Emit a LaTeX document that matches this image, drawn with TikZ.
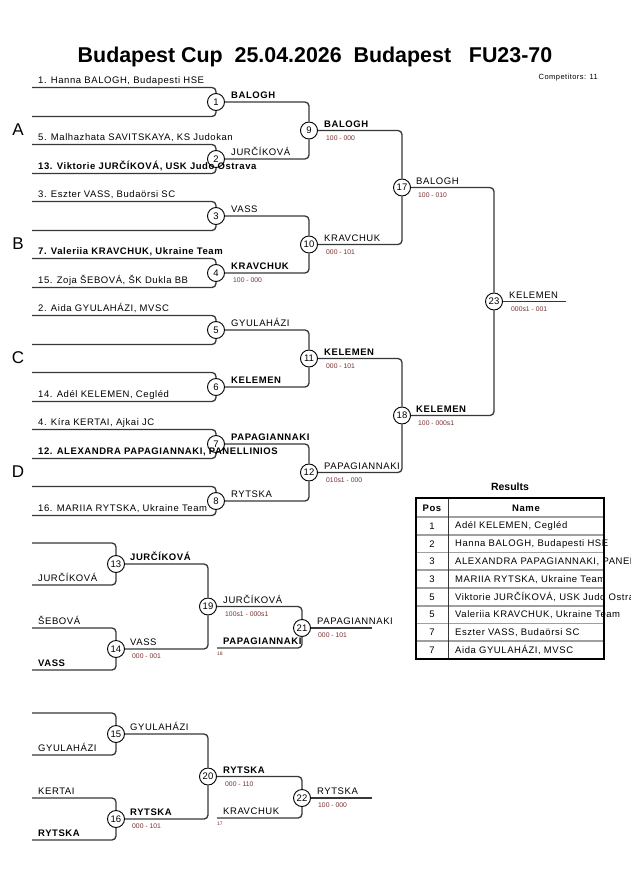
\documentclass[tikz,border=0pt]{standalone}
\usepackage{fontspec}
\setmainfont{Liberation Sans}
\newfontfamily\nf[LetterSpace=6]{Liberation Sans}
\definecolor{ln}{RGB}{55,55,55}
\definecolor{scr}{RGB}{120,45,45}
\tikzset{
 br/.style={draw=ln, line width=1.3pt, rounded corners=4pt},
 mc/.style={circle, draw=black, line width=0.9pt, fill=white, minimum size=17pt, inner sep=0pt, font=\fontsize{9.5}{9.5}\selectfont},
 nm/.style={anchor=base west, inner sep=0pt, font=\nf\fontsize{9.5}{10}\selectfont},
 nb/.style={anchor=base west, inner sep=0pt, font=\nf\bfseries\fontsize{9.5}{10}\selectfont},
 sco/.style={anchor=base west, inner sep=0pt, text=scr, font=\fontsize{6.8}{7}\selectfont},
 tiny/.style={anchor=base west, inner sep=0pt, text=scr, font=\fontsize{5}{5}\selectfont},
 grp/.style={font=\fontsize{17}{17}\selectfont, inner sep=0pt},
 tline/.style={draw=gray!75, line width=1.6pt},
 tcell/.style={inner sep=0pt, font=\nf\fontsize{9.5}{10}\selectfont},
}
\begin{document}
\begin{tikzpicture}[x=1pt,y=-1pt]
\useasboundingbox (0,0) rectangle (630,891);
\clip (0,0) rectangle (630,891);
% title
\node[font=\bfseries\fontsize{21.4}{21.4}\selectfont, inner sep=0pt] (title) at (315,57) {Budapest Cup\ \ 25.04.2026\ \ Budapest\ \ \ FU23-70};
\node[anchor=base east, inner sep=0pt, font=\nf\fontsize{7.5}{8}\selectfont] (comp) at (598,79) {Competitors: 11};
% group letters
\node[grp] (gA) at (18,130) {A};
\node[grp] (gB) at (18,244) {B};
\node[grp] (gC) at (18,358) {C};
\node[grp] (gD) at (18,472) {D};
% match circles
\foreach \k/\x/\y in {1/216/102, 2/216/159, 3/216/216, 4/216/273, 5/216/330, 6/216/387, 7/216/444, 8/216/501, 9/309/130.5, 10/309/244.5, 11/309/358.5, 12/309/472.5, 17/402/187.5, 18/402/415.5, 23/494/301.5, 13/116/564, 14/116/649, 19/208/606.5, 21/302/628, 15/116/734, 16/116/819, 20/208/776.5, 22/302/798}
  {\node[mc] (m\k) at (\x,\y) {\k};}
% entry lines
\foreach \k/\y/\d in {1/102/14.5, 2/159/14.5, 3/216/14.5, 4/273/14.5, 5/330/14.5, 6/387/14.5, 7/444/14.5, 8/501/14.5, 13/564/21, 14/649/21, 15/734/21, 16/819/21}
  {\coordinate (t\k) at (32,\y-\d);
   \coordinate (b\k) at (32,\y+\d);
   \draw[br] (t\k) -| (m\k);
   \draw[br] (b\k) -| (m\k);}
% bracket connectors
\foreach \a/\b in {1/9,2/9,3/10,4/10,5/11,6/11,7/12,8/12,9/17,10/17,11/18,12/18,17/23,18/23,13/19,14/19,15/20,16/20,19/21,20/22}
  {\draw[br] (m\a) -| (m\b);}
\coordinate (r21) at (217,648);
\coordinate (r22) at (217,818);
\coordinate (w21) at (372,628);
\coordinate (w22) at (372,798);
\coordinate (w23) at (566,301.5);
\draw[br] (r21) -| (m21);
\draw[br] (r22) -| (m22);
\draw[br] (m21) -- (w21);
\draw[br] (m22) -- (w22);
\draw[br] (m23) -- (w23);
% competitor names
\foreach \i/\s/\x/\y/\t in {
 1/nm/38/84/{1. Hanna BALOGH, Budapesti HSE},
 2/nm/38/140.5/{5. Malhazhata SAVITSKAYA, KS Judokan},
 3/nb/38/169.5/{13. Viktorie JURČÍKOVÁ, USK Judo Ostrava},
 4/nm/38/197.5/{3. Eszter VASS, Budaörsi SC},
 5/nb/38/254.5/{7. Valeriia KRAVCHUK, Ukraine Team},
 6/nm/38/283.5/{15. Zoja ŠEBOVÁ, ŠK Dukla BB},
 7/nm/38/311.5/{2. Aida GYULAHÁZI, MVSC},
 8/nm/38/397.5/{14. Adél KELEMEN, Cegléd},
 9/nm/38/425.5/{4. Kíra KERTAI, Ajkai JC},
 10/nb/38/454.5/{12. ALEXANDRA PAPAGIANNAKI, PANELLINIOS},
 11/nm/38/511.5/{16. MARIIA RYTSKA, Ukraine Team},
 12/nm/38/581/{JURČÍKOVÁ},
 13/nm/38/624/{ŠEBOVÁ},
 14/nb/38/666/{VASS},
 15/nm/38/751/{GYULAHÁZI},
 16/nm/38/794/{KERTAI},
 17/nb/38/836/{RYTSKA}}
  {\node[\s] (c\i) at (\x,\y) {\t};}
% winner labels
\foreach \i/\s/\x/\y/\t in {
 1/nb/231/98.5/BALOGH,
 2/nm/231/155.5/JURČÍKOVÁ,
 3/nm/231/212.5/VASS,
 4/nb/231/269.5/KRAVCHUK,
 5/nm/231/326.5/GYULAHÁZI,
 6/nb/231/383.5/KELEMEN,
 7/nb/231/440.5/PAPAGIANNAKI,
 8/nm/231/497.5/RYTSKA,
 9/nb/324/127/BALOGH,
 10/nm/324/241/KRAVCHUK,
 11/nb/324/355/KELEMEN,
 12/nm/324/469/PAPAGIANNAKI,
 17/nm/416/184/BALOGH,
 18/nb/416/412/KELEMEN,
 23/nm/509/298/KELEMEN,
 13/nb/130/560.5/JURČÍKOVÁ,
 14/nm/130/645.5/VASS,
 19/nm/223/603/JURČÍKOVÁ,
 21/nm/317/624.5/PAPAGIANNAKI,
 24/nb/223/644.5/PAPAGIANNAKI,
 15/nm/130/730.5/GYULAHÁZI,
 16/nb/130/815.5/RYTSKA,
 20/nb/223/773/RYTSKA,
 22/nm/317/794.5/RYTSKA,
 25/nm/223/814.5/KRAVCHUK}
  {\node[\s] (w\i) at (\x,\y) {\t};}
% scores
\foreach \i/\x/\y/\t in {
 4/233/282.5/{100 - 000},
 9/326/140/{100 - 000},
 10/326/254/{000 - 101},
 11/326/368/{000 - 101},
 12/326/482/{010s1 - 000},
 17/418/197/{100 - 010},
 18/418/425/{100 - 000s1},
 23/511/311/{000s1 - 001},
 14/132/658.5/{000 - 001},
 19/225/616/{100s1 - 000s1},
 21/318/637.5/{000 - 101},
 16/132/828.5/{000 - 101},
 20/225/786/{000 - 110},
 22/318/807.5/{100 - 000}}
  {\node[sco] (s\i) at (\x,\y) {\t};}
\node[tiny] (f18) at (217,655) {18};
\node[tiny] (f17) at (217,825) {17};
% results table
\node[font=\bfseries\fontsize{10.5}{10.5}\selectfont, inner sep=0pt] (restitle) at (510,487) {Results};
\foreach \y in {517,534.75,552.5,570.25,588,605.75,623.5,641.25}
  {\draw[tline] (416,\y) -- (604,\y);}
\draw[ln, line width=0.8pt] (448,498) -- (448,659);
\draw[black, line width=1.8pt] (416,498) rectangle (604,659);
\node[tcell, font=\nf\bfseries\fontsize{9.5}{10}\selectfont] (hpos) at (432,508) {Pos};
\node[tcell, font=\nf\bfseries\fontsize{9.5}{10}\selectfont] (hname) at (526,508) {Name};
\foreach \r/\p/\y/\t in {
 1/1/526/{Adél KELEMEN, Cegléd},
 2/2/543.75/{Hanna BALOGH, Budapesti HSE},
 3/3/561.5/{ALEXANDRA PAPAGIANNAKI, PANELLINIOS},
 4/3/579.25/{MARIIA RYTSKA, Ukraine Team},
 5/5/597/{Viktorie JURČÍKOVÁ, USK Judo Ostrava},
 6/5/614.75/{Valeriia KRAVCHUK, Ukraine Team},
 7/7/632.5/{Eszter VASS, Budaörsi SC},
 8/7/650.25/{Aida GYULAHÁZI, MVSC}}
  {\node[tcell] (tp\r) at (432,\y) {\p};
   \node[tcell, anchor=west] (tn\r) at (455,\y) {\t};}
\end{tikzpicture}
\end{document}
